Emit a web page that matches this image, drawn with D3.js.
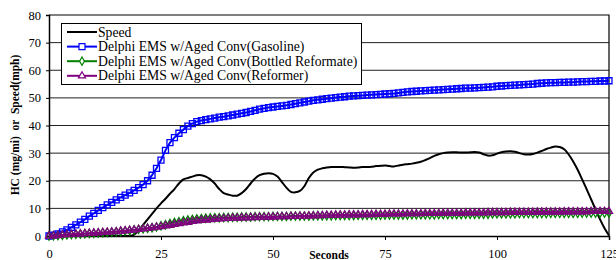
<!DOCTYPE html>
<html>
<head>
<meta charset="utf-8">
<script src="https://cdn.jsdelivr.net/npm/d3@7"></script>
<style>
body { margin: 0; background: #fff; }
svg { display: block; }
svg text { font-family: 'Liberation Serif', 'Times New Roman', Times, 'DejaVu Serif', serif; }
</style>
</head>
<body>
<svg id="chart"></svg>
<script>
const svg_width = 616;
const svg_height = 260;

// data, one value per second (0..125)
const seriesNames = ['Speed', 'Delphi EMS w/Aged Conv(Gasoline)', 'Delphi EMS w/Aged Conv(Bottled Reformate)', 'Delphi EMS w/Aged Conv(Reformer)'];
const xTicks = [0, 25, 50, 75, 100, 125];
const yTicks = [0, 10, 20, 30, 40, 50, 60, 70, 80];

const speed = [
  0, 0, 0, 0, 0, 0, 0, 0, 0, 0,
  0, 0, 0, 0, 0, 0, 0, 0, 0, 0.5,
  2, 4, 6, 8, 10, 11.8, 13.5, 15.3, 17, 19,
  20.5, 21, 21.5, 22, 22, 21.5, 20.5, 19, 17, 15.5,
  15, 14.6, 14.6, 15.5, 17, 19, 20.8, 22, 22.5, 22.7,
  22.5, 21.5, 19.5, 17.5, 16, 15.8, 16.3, 18, 21, 23,
  24, 24.5, 24.8, 25, 25, 25, 24.9, 24.8, 24.7, 24.8,
  25, 25, 25.1, 25.3, 25.4, 25.5, 25.3, 25.2, 25.5, 25.8,
  26, 26.2, 26.5, 26.9, 27.5, 28.2, 29, 29.6, 30, 30.2,
  30.3, 30.3, 30.2, 30.2, 30.3, 30.4, 30.2, 29.6, 29.1, 29.2,
  29.8, 30.3, 30.6, 30.7, 30.5, 30, 29.6, 29.5, 29.7, 30.2,
  30.8, 31.5, 32, 32.4, 32.2, 31.4, 29.5, 27, 24, 20.5,
  17, 13.3, 9.6, 6, 2.8, 0.2
];
const gasoline = [
  0, 0.3, 0.8, 1.5, 2.2, 3.1, 4, 5, 6, 7.2,
  8.2, 9.3, 10.3, 11.3, 12.2, 13.1, 14, 14.8, 15.6, 16.5,
  17.5, 18.6, 20, 22, 24.5, 27.5, 31, 33.8, 35.6, 37.2,
  38.5, 39.8, 40.7, 41.4, 41.8, 42.1, 42.4, 42.7, 43, 43.2,
  43.5, 43.8, 44.1, 44.4, 44.7, 45.1, 45.5, 45.9, 46.2, 46.5,
  46.7, 46.9, 47.1, 47.3, 47.6, 47.9, 48.2, 48.5, 48.8, 49.1,
  49.3, 49.5, 49.7, 49.9, 50.1, 50.3, 50.4, 50.6, 50.7, 50.8,
  50.9, 51, 51.1, 51.2, 51.3, 51.4, 51.5, 51.6, 51.8, 52,
  52.2, 52.3, 52.4, 52.5, 52.6, 52.7, 52.8, 52.9, 53, 53.1,
  53.2, 53.3, 53.4, 53.5, 53.5, 53.6, 53.7, 53.8, 53.9, 54,
  54.2, 54.3, 54.4, 54.5, 54.6, 54.7, 54.8, 54.9, 55, 55.2,
  55.3, 55.4, 55.5, 55.5, 55.6, 55.6, 55.7, 55.7, 55.8, 55.9,
  55.9, 56, 56, 56.1, 56.1, 56.2
];
const bottled = [
  0, 0.1, 0.2, 0.3, 0.4, 0.5, 0.6, 0.7, 0.8, 0.9,
  1.0, 1.1, 1.2, 1.3, 1.4, 1.5, 1.6, 1.8, 2.0, 2.2,
  2.4, 2.6, 2.8, 3.0, 3.3, 3.7, 4.1, 4.5, 4.9, 5.2,
  5.5, 5.8, 6.0, 6.2, 6.3, 6.4, 6.5, 6.6, 6.6, 6.7,
  6.7, 6.8, 6.8, 6.9, 6.9, 6.9, 7.0, 7.0, 7.0, 7.0,
  7.1, 7.1, 7.1, 7.1, 7.2, 7.2, 7.2, 7.2, 7.2, 7.3,
  7.3, 7.3, 7.3, 7.3, 7.4, 7.4, 7.4, 7.4, 7.4, 7.5,
  7.5, 7.5, 7.5, 7.5, 7.5, 7.6, 7.6, 7.6, 7.6, 7.6,
  7.6, 7.7, 7.7, 7.7, 7.7, 7.7, 7.7, 7.8, 7.8, 7.8,
  7.8, 7.8, 7.8, 7.9, 7.9, 7.9, 7.9, 7.9, 7.9, 8.0,
  8.0, 8.0, 8.0, 8.0, 8.0, 8.1, 8.1, 8.1, 8.1, 8.1,
  8.1, 8.1, 8.2, 8.2, 8.2, 8.2, 8.2, 8.2, 8.2, 8.3,
  8.3, 8.3, 8.3, 8.3, 8.3, 8.3
];
const reformer = [
  0, 0.1, 0.2, 0.4, 0.5, 0.6, 0.7, 0.8, 0.9, 1.0,
  1.1, 1.2, 1.3, 1.4, 1.5, 1.6, 1.8, 1.9, 2.1, 2.2,
  2.4, 2.6, 2.8, 3.0, 3.2, 3.4, 3.7, 3.9, 4.2, 4.5,
  4.8, 5.0, 5.3, 5.5, 5.7, 5.8, 6.0, 6.1, 6.2, 6.3,
  6.4, 6.5, 6.5, 6.6, 6.6, 6.7, 6.7, 6.8, 6.8, 6.9,
  6.9, 7.0, 7.0, 7.0, 7.1, 7.1, 7.2, 7.2, 7.3, 7.3,
  7.4, 7.4, 7.5, 7.5, 7.6, 7.6, 7.6, 7.7, 7.7, 7.7,
  7.8, 7.8, 7.8, 7.9, 7.9, 7.9, 8.0, 8.0, 8.0, 8.0,
  8.1, 8.1, 8.1, 8.1, 8.2, 8.2, 8.2, 8.2, 8.3, 8.3,
  8.3, 8.3, 8.3, 8.4, 8.4, 8.4, 8.4, 8.4, 8.5, 8.5,
  8.5, 8.5, 8.5, 8.6, 8.6, 8.6, 8.6, 8.6, 8.6, 8.7,
  8.7, 8.7, 8.7, 8.7, 8.7, 8.8, 8.8, 8.8, 8.8, 8.8,
  8.8, 8.9, 8.9, 8.9, 8.9, 8.9
];

const FONT = "'Liberation Serif', 'Times New Roman', Times, 'DejaVu Serif', serif";

const svg = d3.select('#chart')
  .attr('width', svg_width)
  .attr('height', svg_height);

const margin = {top: 15, right: 7, bottom: 24, left: 49};

const x = d3.scaleLinear().domain([0, 125]).range([margin.left, svg_width - margin.right]);
const y = d3.scaleLinear().domain([0, 80]).range([svg_height - margin.bottom, margin.top]);

// gridlines
svg.append('g')
  .selectAll('line')
  .data(yTicks.filter(d => d > 0 && d < 80))
  .join('line')
  .attr('x1', x(0)).attr('x2', x(125))
  .attr('y1', d => y(d)).attr('y2', d => y(d))
  .attr('stroke', '#222').attr('stroke-width', 1);

// frame (top + right)
svg.append('path')
  .attr('d', `M${x(0)},${y(80)}H${x(125)}V${y(0)}`)
  .attr('fill', 'none').attr('stroke', '#000').attr('stroke-width', 1.2);

// axes
const yAxis = svg.append('g')
  .attr('transform', `translate(${x(0)},0)`)
  .call(d3.axisLeft(y).tickValues(yTicks).tickSize(3).tickPadding(5));
const xAxis = svg.append('g')
  .attr('transform', `translate(0,${y(0)})`)
  .call(d3.axisBottom(x).tickValues(xTicks).tickSize(4).tickPadding(9));
[xAxis, yAxis].forEach(a => {
  a.attr('font-family', FONT).attr('font-size', 12.5);
  a.select('.domain').attr('stroke', '#000').attr('stroke-width', 1.5);
  a.selectAll('.tick line').attr('stroke', '#000');
  a.selectAll('.tick text').attr('fill', '#000');
});

// axis titles
svg.append('text')
  .attr('x', 329).attr('y', 259)
  .attr('text-anchor', 'middle')
  .attr('font-family', FONT)
  .attr('font-weight', 'bold').attr('font-size', '11.5px')
  .text('Seconds');
svg.append('text')
  .attr('transform', 'translate(19,125) rotate(-90)')
  .attr('text-anchor', 'middle')
  .attr('font-family', FONT)
  .attr('font-weight', 'bold').attr('font-size', '11.5px')
  .attr('style', 'white-space:pre')
  .text('HC (mg/mi)  or  Speed(mph)');

const seconds = d3.range(0, 126);
const line = d3.line().x((d, i) => x(seconds[i])).y(d => y(d));

// series
const styles = [
  {data: speed, color: '#000', marker: null},
  {data: gasoline, color: '#0000ff', marker: 'square'},
  {data: bottled, color: '#008000', marker: 'diamond'},
  {data: reformer, color: '#800080', marker: 'triangle'}
];

const symbolOf = {
  square: d3.symbol().type(d3.symbolSquare).size(36),
  diamond: d3.symbol().type(d3.symbolDiamond).size(20),
  triangle: d3.symbol().type(d3.symbolTriangle).size(22)
};

styles.forEach((s, k) => {
  svg.append('path')
    .datum(s.data)
    .attr('fill', 'none')
    .attr('stroke', s.color)
    .attr('stroke-width', 2)
    .attr('d', k === 0 ? line.curve(d3.curveCatmullRom)(s.data) : line.curve(d3.curveLinear)(s.data));
  if (s.marker) {
    svg.append('g')
      .selectAll('path')
      .data(s.data)
      .join('path')
      .attr('transform', (d, i) => `translate(${x(seconds[i])},${y(d)})`)
      .attr('d', symbolOf[s.marker]())
      .attr('fill', 'none')
      .attr('stroke', s.color)
      .attr('stroke-width', 1.3);
  }
});

// legend
const legend = svg.append('g').attr('font-family', FONT);
legend.append('rect')
  .attr('x', 61.5).attr('y', 23.5)
  .attr('width', 300).attr('height', 61)
  .attr('fill', '#fff').attr('stroke', '#000').attr('stroke-width', 1);

seriesNames.forEach((name, i) => {
  const ly = 32 + i * 14.6;
  legend.append('line')
    .attr('x1', 67).attr('x2', 97)
    .attr('y1', ly).attr('y2', ly)
    .attr('stroke', styles[i].color).attr('stroke-width', 2);
  if (styles[i].marker) {
    legend.append('path')
      .attr('transform', `translate(82,${ly})`)
      .attr('d', symbolOf[styles[i].marker]())
      .attr('fill', '#fff')
      .attr('stroke', styles[i].color)
      .attr('stroke-width', 1.2);
  }
  legend.append('text')
    .attr('x', 98).attr('y', ly + 4.5)
    .attr('font-size', '13.7px')
    .text(name);
});
</script>
</body>
</html>
